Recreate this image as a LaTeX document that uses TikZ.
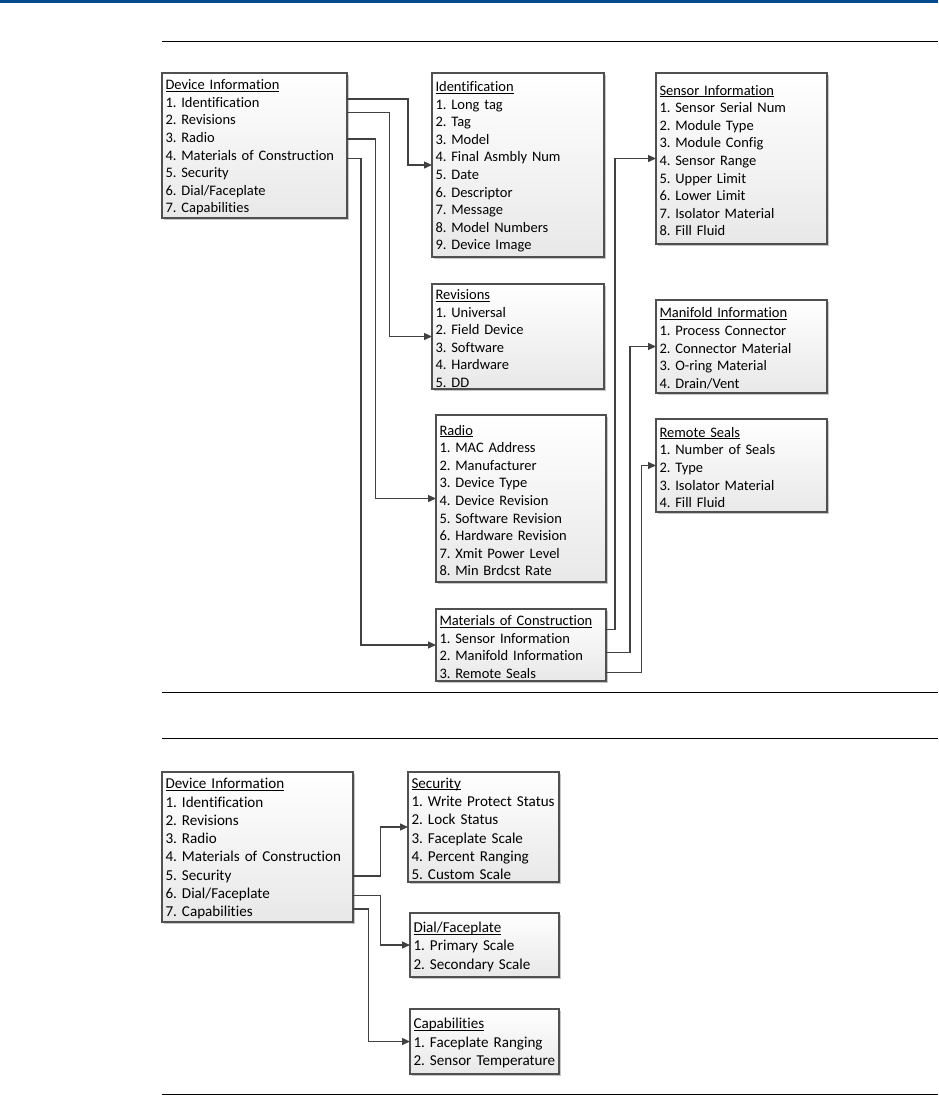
\documentclass[tikz,border=0pt]{standalone}
\usepackage{fontspec}
\setmainfont{Carlito}[Ligatures=NoCommon]
\usepackage{xcolor}
\usepackage{tikz}
\usetikzlibrary{positioning,calc,arrows.meta,shadows}

\definecolor{topblue}{RGB}{0,75,141}
\definecolor{boxline}{RGB}{80,80,80}
\definecolor{linkline}{RGB}{65,65,65}

\frenchspacing
\hyphenpenalty=10000
\newcommand{\mtitle}[1]{\rule{0pt}{14pt}\setbox0\hbox{#1}\rlap{\rule[-1.9pt]{\wd0}{0.8pt}}\box0}
\newcommand{\topfont}{\fontsize{14.5}{17.6}\selectfont}
\newcommand{\lowfont}{\fontsize{15.1}{18.3}\selectfont}

\begin{document}
\begin{tikzpicture}[x=1pt, y=1pt, outer sep=0pt,
    menu/.style={draw=boxline, line width=1.2pt, rectangle, align=left, inner xsep=3.5pt, inner ysep=0pt,
        top color=white, bottom color=black!9,
        drop shadow={shadow xshift=2pt, shadow yshift=-2pt, fill=black!22, opacity=1}},
    link/.style={draw=linkline, line width=1.35pt, -{Triangle[length=8pt,width=7pt]}}]
    \useasboundingbox (0,0) rectangle (938,-1095);

    % page header and rules
    \fill[topblue] (0,0) rectangle (938,-3.3);
    \draw[line width=1pt] (162,-41) -- (938,-41);
    \draw[line width=1pt] (162,-692) -- (938,-692);
    \draw[line width=1pt] (162,-738) -- (938,-738);
    \draw[line width=1pt] (162,-1094) -- (938,-1094);

    % upper menu tree
    \node [menu, font=\topfont, text width=178pt, minimum height=145pt, anchor=north west] (devinfo) at (162,-73) {\mtitle{Device Information}\\1. Identification\\2. Revisions\\3. Radio\\4. Materials of Construction\\5. Security\\6. Dial/Faceplate\\7. Capabilities};
    \node [menu, font=\topfont, text width=165pt, minimum height=184pt, right=85pt of devinfo.north east, anchor=north west] (ident) {\mtitle{Identification}\\1. Long tag\\2. Tag\\3. Model\\4. Final Asmbly Num\\5. Date\\6. Descriptor\\7. Message\\8. Model Numbers\\9. Device Image};
    \node [menu, font=\topfont, text width=165pt, minimum height=105pt, below=27pt of ident.south west, anchor=north west] (revis) {\mtitle{Revisions}\\1. Universal\\2. Field Device\\3. Software\\4. Hardware\\5. DD};
    \node [menu, font=\topfont, text width=163pt, minimum height=167pt, below=26pt of revis.south west, anchor=north west, xshift=4pt] (radio) {\mtitle{Radio}\\1. MAC Address\\2. Manufacturer\\3. Device Type\\4. Device Revision\\5. Software Revision\\6. Hardware Revision\\7. Xmit Power Level\\8. Min Brdcst Rate};
    \node [menu, font=\topfont, text width=163pt, minimum height=72pt, below=27pt of radio.south west, anchor=north west] (moc) {\mtitle{Materials of Construction}\\1. Sensor Information\\2. Manifold Information\\3. Remote Seals};
    \node [menu, font=\topfont, text width=164pt, minimum height=171pt, right=52pt of ident.north east, anchor=north west] (sensor) {\mtitle{Sensor Information}\\1. Sensor Serial Num\\2. Module Type\\3. Module Config\\4. Sensor Range\\5. Upper Limit\\6. Lower Limit\\7. Isolator Material\\8. Fill Fluid};
    \node [menu, font=\topfont, text width=164pt, minimum height=93pt, below=56pt of sensor.south west, anchor=north west] (manif) {\mtitle{Manifold Information}\\1. Process Connector\\2. Connector Material\\3. O-ring Material\\4. Drain/Vent};
    \node [menu, font=\topfont, text width=164pt, minimum height=93pt, below=26pt of manif.south west, anchor=north west] (seals) {\mtitle{Remote Seals}\\1. Number of Seals\\2. Type\\3. Isolator Material\\4. Fill Fluid};

    \draw[link] ([yshift=-26pt]devinfo.north east) -| ([xshift=-24pt]ident.west) -- (ident.west);
    \draw[link] ([yshift=-39.4pt]devinfo.north east) -| ([xshift=-42.7pt]revis.west) -- (revis.west);
    \draw[link] ([yshift=-66pt]devinfo.north east) -| ([xshift=-60.7pt]radio.west) -- (radio.west);
    \draw[link] ([yshift=-85.7pt]devinfo.north east) -| ([xshift=-75pt]moc.west) -- (moc.west);
    \draw[link] ([yshift=-20.7pt]moc.north east) -| ([xshift=-41pt]sensor.west) -- (sensor.west);
    \draw[link] ([yshift=-43.3pt]moc.north east) -| ([xshift=-26pt]manif.west) -- (manif.west);
    \draw[link] ([yshift=-63.3pt]moc.north east) -| ([xshift=-14.5pt]seals.west) -- (seals.west);

    % lower menu tree
    \node [menu, font=\lowfont, text width=184pt, minimum height=150pt, anchor=north west] (devinfob) at (162,-772) {\mtitle{Device Information}\\1. Identification\\2. Revisions\\3. Radio\\4. Materials of Construction\\5. Security\\6. Dial/Faceplate\\7. Capabilities};
    \node [menu, font=\lowfont, text width=144pt, minimum height=110pt, right=55pt of devinfob.north east, anchor=north west] (secur) {\mtitle{Security}\\1. Write Protect Status\\2. Lock Status\\3. Faceplate Scale\\4. Percent Ranging\\5. Custom Scale};
    \node [menu, font=\lowfont, text width=142pt, minimum height=64pt, below=31pt of secur.south west, anchor=north west, xshift=2pt] (dial) {\mtitle{Dial/Faceplate}\\1. Primary Scale\\2. Secondary Scale};
    \node [menu, font=\lowfont, text width=142pt, minimum height=65pt, below=32pt of dial.south west, anchor=north west] (capab) {\mtitle{Capabilities}\\1. Faceplate Ranging\\2. Sensor Temperature};

    \draw[link] ([yshift=-104pt]devinfob.north east) -| ([xshift=-27.3pt]secur.west) -- (secur.west);
    \draw[link] ([yshift=-123.7pt]devinfob.north east) -| ([xshift=-29.3pt]dial.west) -- (dial.west);
    \draw[link] ([yshift=-137pt]devinfob.north east) -| ([xshift=-41.7pt]capab.west) -- (capab.west);
\end{tikzpicture}
\end{document}
